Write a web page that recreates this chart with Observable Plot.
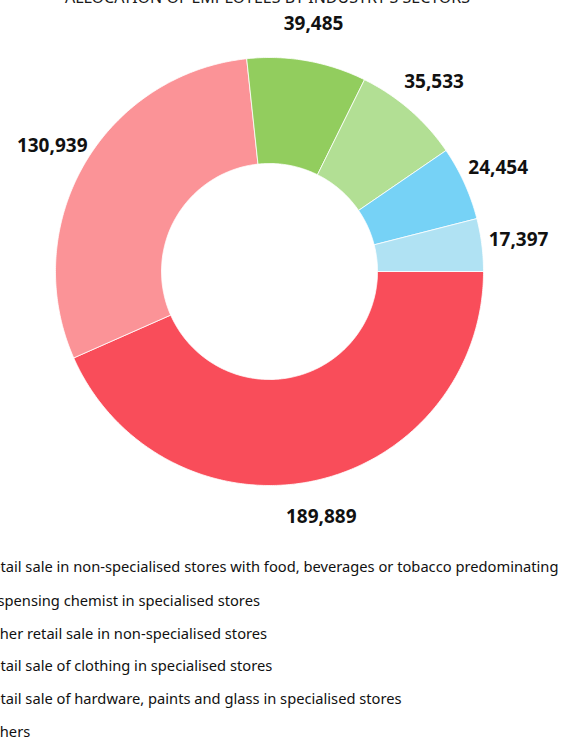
<!DOCTYPE html>
<html>
<head>
<meta charset="utf-8">
<script src="https://cdn.jsdelivr.net/npm/d3@7"></script>
<script src="https://cdn.jsdelivr.net/npm/@observablehq/plot@0.6"></script>
<style>
  html, body { margin: 0; padding: 0; background: #fff; overflow: hidden; }
  body { width: 567px; height: 738px; position: relative; font-family: "Noto Sans", sans-serif; }
  #title { position: absolute; left: 0; width: 535px; top: -14px; text-align: center; font-size: 16px; font-weight: 400; color: #1a1a1a; white-space: nowrap; }
  #chart { position: absolute; left: 0; top: 0; }
  #legend { position: absolute; left: -34px; top: 556px; }
  .item { position: absolute; left: 0; height: 20px; white-space: nowrap; font-size: 14.7px; color: #111; display: flex; align-items: center; }
  .sw { width: 10px; height: 10px; margin-right: 7px; display: inline-block; }
</style>
</head>
<body>
<div id="title">ALLOCATION OF EMPLOYEES BY INDUSTRY'S SECTORS</div>
<div id="chart"></div>
<div id="legend"></div>
<script>
const categories = [
  "Retail sale in non-specialised stores with food, beverages or tobacco predominating",
  "Dispensing chemist in specialised stores",
  "Other retail sale in non-specialised stores",
  "Retail sale of clothing in specialised stores",
  "Retail sale of hardware, paints and glass in specialised stores",
  "Others"
];
const values = [189889, 130939, 39485, 35533, 24454, 17397];
const colors = ["#F94D5A", "#FB9397", "#92CD5E", "#B2DF94", "#76D2F6", "#B0E2F3"];
const labels = ["189,889", "130,939", "39,485", "35,533", "24,454", "17,397"];

const R = 214, r0 = 108, labelR = 251;
const pie = d3.pie().sort(null).startAngle(Math.PI / 2).endAngle(Math.PI / 2 + 2 * Math.PI);
const arcs = pie(values);

// polygon points of each slice, derived from the data through d3.pie angles
const pts = [];
arcs.forEach((a, i) => {
  const n = Math.max(4, Math.ceil((a.endAngle - a.startAngle) / 0.01));
  const ring = [];
  for (let k = 0; k <= n; k++) {
    const t = a.startAngle + (a.endAngle - a.startAngle) * k / n;
    ring.push([R * Math.sin(t), R * Math.cos(t)]);
  }
  for (let k = n; k >= 0; k--) {
    const t = a.startAngle + (a.endAngle - a.startAngle) * k / n;
    ring.push([r0 * Math.sin(t), r0 * Math.cos(t)]);
  }
  ring.push(ring[0]);
  ring.forEach(([x, y]) => pts.push({slice: categories[i], x, y}));
});

const labelData = arcs.map((a, i) => {
  const m = (a.startAngle + a.endAngle) / 2;
  return {x: labelR * Math.sin(m), y: labelR * Math.cos(m), text: labels[i]};
});

const chart = Plot.plot({
  width: 567,
  height: 540,
  x: {domain: [-R, R], range: [55, 483], axis: null},
  y: {domain: [-R, R], range: [485, 57], axis: null},
  color: {domain: categories, range: colors},
  style: {background: "transparent"},
  marks: [
    Plot.line(pts, {x: "x", y: "y", z: "slice", fill: "slice", stroke: "white", strokeWidth: 0.8, curve: "linear"}),
    Plot.text(labelData, {x: "x", y: "y", text: "text", fontSize: 19, fontWeight: "bold", fill: "#111", fontFamily: "Noto Sans"})
  ]
});
document.getElementById("chart").appendChild(chart);

const legend = document.getElementById("legend");
const rowTops = [0, 34, 67, 99, 132, 165];
categories.forEach((c, i) => {
  const d = document.createElement("div");
  d.className = "item";
  d.style.top = rowTops[i] + "px";
  d.innerHTML = `<span class="sw" style="background:${colors[i]}"></span><span>${c}</span>`;
  legend.appendChild(d);
});
</script>
</body>
</html>
